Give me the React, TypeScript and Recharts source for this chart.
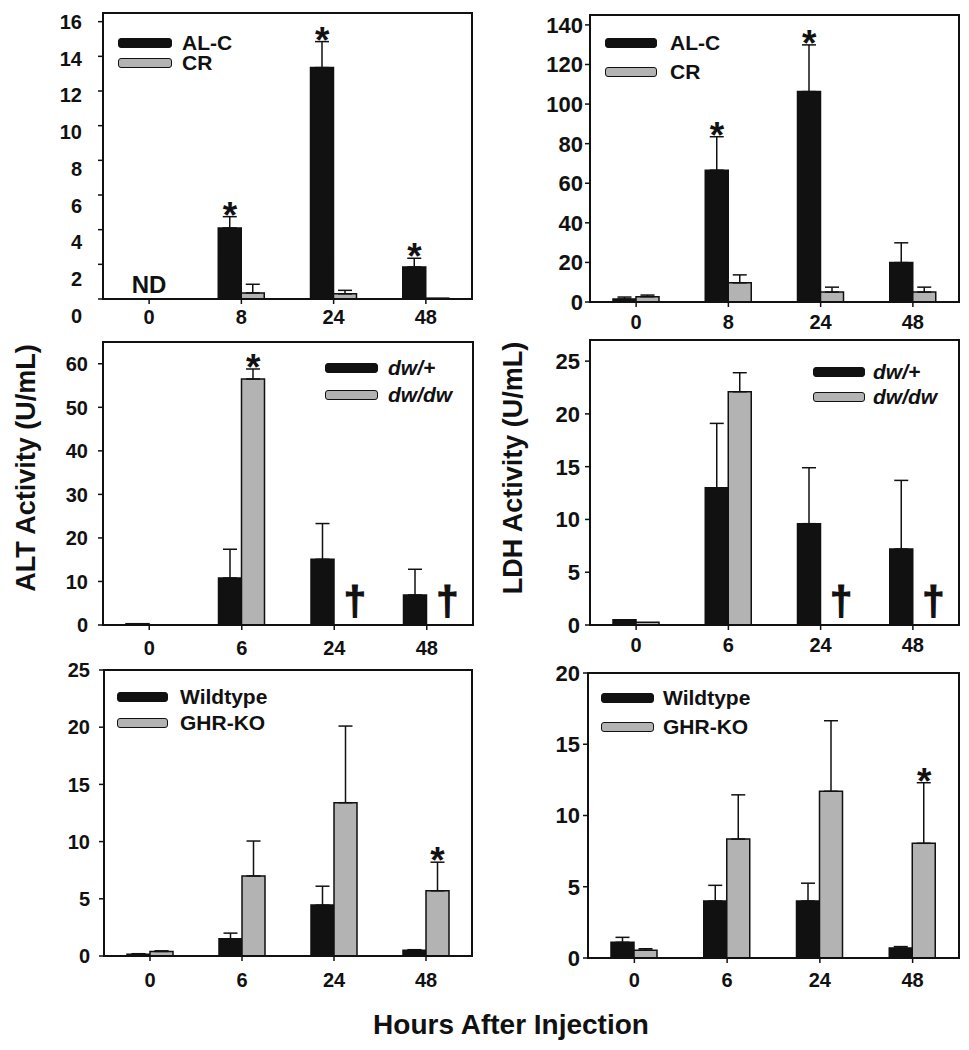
import React from "react";
import { BarChart, Bar, XAxis, YAxis, ErrorBar, ReferenceDot, ReferenceArea } from "recharts";

const FONT = "'Liberation Sans', Arial, Helvetica, sans-serif";
const INK = "#111";
const GREY = "#b3b3b3";
const BAR = 23;

// hours after injection (x categories)
const hoursCR = ["0", "8", "24", "48"];
const hoursDw = ["0", "6", "24", "48"];
const hoursGhr = ["0", "6", "24", "48"];

// top left: ALT, AL-C vs CR
const altAlc = [0, 4.1, 13.35, 1.85];
const altAlcErr = [0, 0.65, 1.5, 0.5];
const altAlcMarks = ["ND", "*", "*", "*"];
const altCr = [0, 0.35, 0.3, 0.05];
const altCrErr = [0, 0.5, 0.2, 0];

// top right: LDH, AL-C vs CR
const ldhAlc = [1.5, 66.6, 106.3, 19.9];
const ldhAlcErr = [1, 16.9, 23.6, 10];
const ldhAlcMarks = ["", "*", "*", ""];
const ldhCr = [2.7, 9.7, 5, 5];
const ldhCrErr = [0.8, 4, 2.5, 2.5];

// middle left: ALT, dw/+ vs dw/dw
const altDwHet = [0.3, 10.8, 15.1, 6.9];
const altDwHetErr = [0, 6.6, 8.2, 5.9];
const altDwDw = [0, 56.5, 0, 0];
const altDwDwErr = [0, 2.3, 0, 0];
const altDwDwMarks = ["", "*", "†", "†"];

// middle right: LDH, dw/+ vs dw/dw
const ldhDwHet = [0.5, 13.0, 9.6, 7.2];
const ldhDwHetErr = [0, 6.1, 5.3, 6.5];
const ldhDwDw = [0.25, 22.1, 0, 0];
const ldhDwDwErr = [0, 1.8, 0, 0];
const ldhDwDwMarks = ["", "", "†", "†"];

// bottom left: ALT, wildtype vs GHR-KO
const altWt = [0.15, 1.5, 4.45, 0.5];
const altWtErr = [0.05, 0.5, 1.65, 0.05];
const altGhr = [0.4, 7.0, 13.4, 5.7];
const altGhrErr = [0.05, 3.05, 6.7, 2.5];
const altGhrMarks = ["", "", "", "*"];

// bottom right: LDH, wildtype vs GHR-KO
const ldhWt = [1.1, 4.0, 4.0, 0.7];
const ldhWtErr = [0.35, 1.1, 1.25, 0.1];
const ldhGhr = [0.55, 8.35, 11.7, 8.05];
const ldhGhrErr = [0.1, 3.1, 4.95, 4.25];
const ldhGhrMarks = ["", "", "", "*"];

const ticksA = [0, 2, 4, 6, 8, 10, 12, 14, 16];
const ticksB = [0, 20, 40, 60, 80, 100, 120, 140];
const ticksC = [0, 10, 20, 30, 40, 50, 60];
const ticksD = [0, 5, 10, 15, 20, 25];
const ticksE = [0, 5, 10, 15, 20, 25];
const ticksF = [0, 5, 10, 15, 20];

type Series = { name: string; values: number[]; errs: number[]; marks?: string[]; fill: string };

type LegendPos = { x: number; y: number; step: number; textX: number; swW: number; italic?: boolean };

type PanelProps = {
  x: number;
  y: number;
  w: number;
  h: number;
  max: number;
  ticks: number[];
  cats: string[];
  series: Series[];
  yGap: number;
  xGap: number;
  yFont: number;
  drift?: number;
  legend: LegendPos;
};

// star above the error cap, dagger where a dead group's bar would be, ND over the category
function renderMark(m: string, bx: number, cy: number) {
  const base = { fontFamily: FONT, fontWeight: 700, fill: INK, textAnchor: "middle" as const };
  if (m === "*") {
    return (
      <text x={bx} y={cy + 11} fontSize={37} {...base}>
        *
      </text>
    );
  }
  if (m === "†") {
    return (
      <text x={bx + 9} y={cy - 10} fontSize={40} stroke={INK} strokeWidth={1.2} {...base}>
        †
      </text>
    );
  }
  return (
    <text x={bx + BAR / 2} y={cy - 6} fontSize={24} {...base}>
      {m}
    </text>
  );
}

function Panel(p: PanelProps) {
  const data = p.cats.map((c, i) => {
    const row: any = { hour: c };
    p.series.forEach((s, k) => {
      row[`v${k}`] = s.values[i];
      row[`e${k}`] = s.errs[i] > 0 ? [0, s.errs[i]] : null;
    });
    return row;
  });
  const AX = 75;
  const TOP = 15;
  const top = p.ticks[p.ticks.length - 1];
  const drift = p.drift ?? 0;

  return (
    <>
      <div style={{ position: "absolute", left: p.x - AX, top: p.y - TOP }}>
        <BarChart
          width={AX + p.w + 5}
          height={p.h + TOP + 40}
          data={data}
          margin={{ top: TOP, right: 5, bottom: 5, left: 0 }}
          barGap={0}
          barSize={BAR}
        >
          <ReferenceArea y1={0} y2={p.max} fill="none" stroke={INK} strokeWidth={2} ifOverflow="visible" />
          <XAxis
            dataKey="hour"
            height={35}
            interval={0}
            axisLine={{ stroke: INK, strokeWidth: 2 }}
            tickLine={{ stroke: INK, strokeWidth: 1.5 }}
            tickSize={5}
            tickMargin={p.xGap}
            tick={{ fill: INK, fontSize: 20, fontWeight: 700, fontFamily: FONT }}
          />
          <YAxis
            type="number"
            domain={[0, p.max]}
            allowDataOverflow
            ticks={p.ticks}
            interval={0}
            width={AX}
            axisLine={{ stroke: INK, strokeWidth: 2 }}
            tickLine={{ stroke: INK, strokeWidth: 1.5 }}
            tickSize={5}
            tickMargin={p.yGap - 5}
            tick={(t: any) => (
              <text
                x={t.x}
                y={t.y + drift * (top - t.payload.value)}
                dy="0.36em"
                textAnchor="end"
                fill={INK}
                fontSize={p.yFont}
                fontWeight={700}
                fontFamily={FONT}
              >
                {t.payload.value}
              </text>
            )}
          />
          {p.series.map((s, k) => (
            <Bar key={k} dataKey={`v${k}`} fill={s.fill} stroke={INK} strokeWidth={1.5} isAnimationActive={false}>
              <ErrorBar dataKey={`e${k}`} width={7} stroke={INK} strokeWidth={1.5} direction="y" />
            </Bar>
          ))}
          {p.series.flatMap((s, k) =>
            (s.marks || []).map((m, i) =>
              m ? (
                <ReferenceDot
                  key={`mk${k}-${i}`}
                  x={p.cats[i]}
                  y={m === "*" ? s.values[i] + s.errs[i] : 0}
                  r={0}
                  ifOverflow="visible"
                  shape={(d: any) => renderMark(m, d.cx + (k - 0.5) * BAR, d.cy)}
                />
              ) : null
            )
          )}
        </BarChart>
      </div>
      {p.series.map((s, k) => {
        const sy = p.legend.y + k * p.legend.step;
        return (
          <React.Fragment key={`lg${k}`}>
            <div
              style={{
                position: "absolute",
                left: p.legend.x,
                top: sy,
                width: p.legend.swW,
                height: 10,
                boxSizing: "border-box",
                background: s.fill,
                border: `1.5px solid ${INK}`,
                borderRadius: 3,
              }}
            />
            <div
              style={{
                position: "absolute",
                left: p.legend.textX,
                top: sy - 4,
                height: 18,
                lineHeight: "18px",
                fontSize: 21,
                fontWeight: 700,
                fontStyle: p.legend.italic ? "italic" : "normal",
                fontFamily: FONT,
                color: INK,
                whiteSpace: "nowrap",
              }}
            >
              {s.name}
            </div>
          </React.Fragment>
        );
      })}
    </>
  );
}

export default function App() {
  return (
    <div style={{ position: "absolute", left: 0, top: 0, width: 969, height: 1050, background: "#fff" }}>
      <svg width={969} height={1050} style={{ position: "absolute", left: 0, top: 0 }}>
        <text
          transform="translate(26,468) rotate(-90)"
          textAnchor="middle"
          dy="0.35em"
          fontSize={27}
          fontWeight={700}
          fontFamily={FONT}
          fill={INK}
        >
          ALT Activity (U/mL)
        </text>
        <text
          transform="translate(513,468) rotate(-90)"
          textAnchor="middle"
          dy="0.35em"
          fontSize={27}
          fontWeight={700}
          fontFamily={FONT}
          fill={INK}
        >
          LDH Activity (U/mL)
        </text>
        <text x={511} y={1024} dy="0.35em" textAnchor="middle" fontSize={28} fontWeight={700} fontFamily={FONT} fill={INK}>
          Hours After Injection
        </text>
      </svg>

      <Panel
        x={103} y={13} w={369} h={286} max={16.5} ticks={ticksA} cats={hoursCR}
        yGap={21} xGap={6} yFont={20} drift={1.05}
        legend={{ x: 118, y: 38, step: 20, textX: 182, swW: 54 }}
        series={[
          { name: "AL-C", values: altAlc, errs: altAlcErr, marks: altAlcMarks, fill: INK },
          { name: "CR", values: altCr, errs: altCrErr, fill: GREY },
        ]}
      />
      <Panel
        x={590} y={15} w={369} h={287} max={145} ticks={ticksB} cats={hoursCR}
        yGap={7} xGap={8} yFont={22}
        legend={{ x: 605, y: 38, step: 29, textX: 670, swW: 52 }}
        series={[
          { name: "AL-C", values: ldhAlc, errs: ldhAlcErr, marks: ldhAlcMarks, fill: INK },
          { name: "CR", values: ldhCr, errs: ldhCrErr, fill: GREY },
        ]}
      />
      <Panel
        x={103} y={342} w={370} h={283} max={65} ticks={ticksC} cats={hoursDw}
        yGap={15} xGap={11} yFont={20}
        legend={{ x: 325, y: 363, step: 27, textX: 388, swW: 53, italic: true }}
        series={[
          { name: "dw/+", values: altDwHet, errs: altDwHetErr, fill: INK },
          { name: "dw/dw", values: altDwDw, errs: altDwDwErr, marks: altDwDwMarks, fill: GREY },
        ]}
      />
      <Panel
        x={590} y={340} w={369} h={285} max={27} ticks={ticksD} cats={hoursDw}
        yGap={10} xGap={8} yFont={22}
        legend={{ x: 813, y: 367, step: 25, textX: 873, swW: 52, italic: true }}
        series={[
          { name: "dw/+", values: ldhDwHet, errs: ldhDwHetErr, fill: INK },
          { name: "dw/dw", values: ldhDwDw, errs: ldhDwDwErr, marks: ldhDwDwMarks, fill: GREY },
        ]}
      />
      <Panel
        x={104} y={670} w={368} h={286} max={25} ticks={ticksE} cats={hoursGhr}
        yGap={14} xGap={12} yFont={20}
        legend={{ x: 117, y: 692, step: 26, textX: 180, swW: 51 }}
        series={[
          { name: "Wildtype", values: altWt, errs: altWtErr, fill: INK },
          { name: "GHR-KO", values: altGhr, errs: altGhrErr, marks: altGhrMarks, fill: GREY },
        ]}
      />
      <Panel
        x={588} y={673} w={371} h={285} max={20} ticks={ticksF} cats={hoursGhr}
        yGap={8} xGap={10} yFont={22}
        legend={{ x: 601, y: 693, step: 29, textX: 663, swW: 53 }}
        series={[
          { name: "Wildtype", values: ldhWt, errs: ldhWtErr, fill: INK },
          { name: "GHR-KO", values: ldhGhr, errs: ldhGhrErr, marks: ldhGhrMarks, fill: GREY },
        ]}
      />
    </div>
  );
}
